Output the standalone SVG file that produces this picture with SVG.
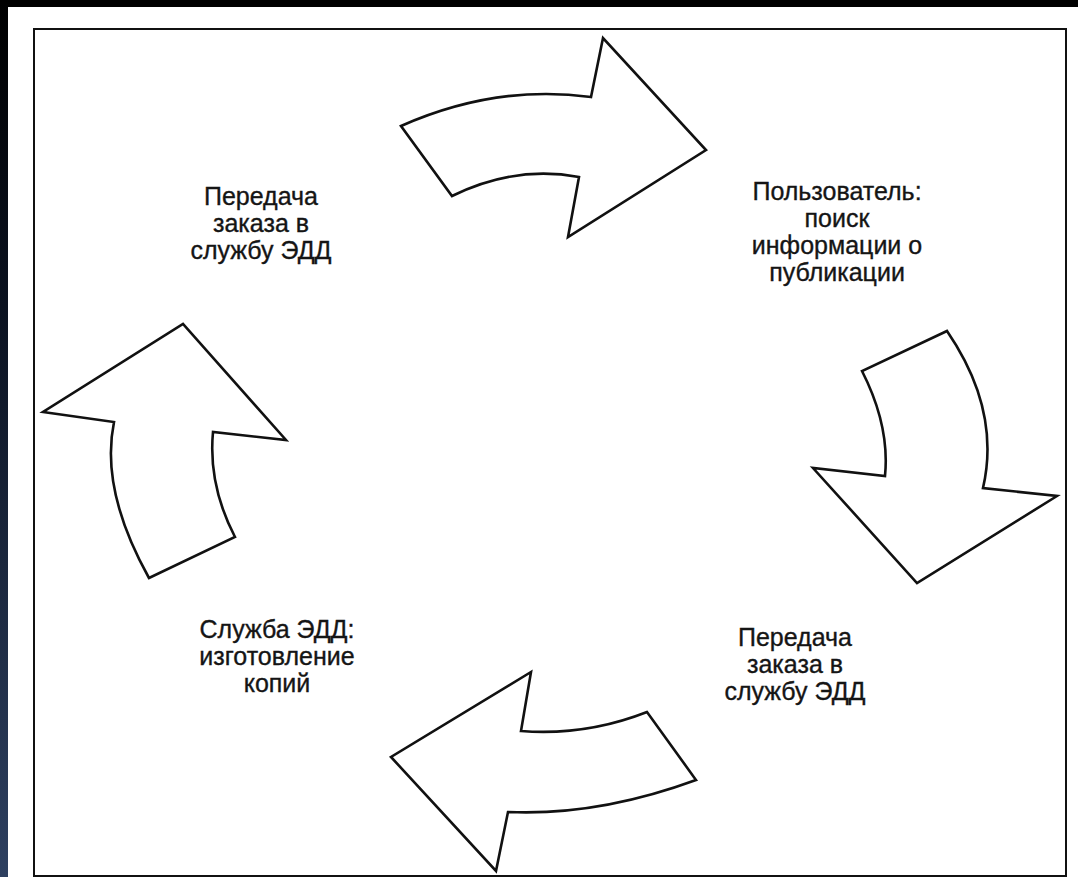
<svg xmlns="http://www.w3.org/2000/svg" width="1078" height="877" viewBox="0 0 1078 877">
  <defs>
    <linearGradient id="sideGrad" x1="0" y1="0" x2="0" y2="1">
      <stop offset="0" stop-color="#000000"/>
      <stop offset="0.35" stop-color="#0b1220"/>
      <stop offset="1" stop-color="#2e4060"/>
    </linearGradient>
  </defs>
  <style>
    .frame { fill: #ffffff; stroke: #111111; stroke-width: 2; }
    .arrow { fill: #ffffff; stroke: #111111; stroke-width: 2.6; stroke-linejoin: miter; }
    .label { font-family: "Liberation Sans", Arial, sans-serif; font-size: 25px; fill: #151515; stroke: #151515; stroke-width: 0.35; text-anchor: middle; }
  </style>
  <rect x="0" y="0" width="1078" height="877" fill="#ffffff"/>
  <rect x="0" y="0" width="1078" height="7" fill="#000000"/>
  <rect x="0" y="0" width="8" height="877" fill="url(#sideGrad)"/>
  <rect class="frame" x="34" y="29" width="1032" height="847"/>

  <g id="connectors">
    <path id="arrow-top" class="arrow" d="M401,126 Q496,84 591,97 L603,38 L706,150 L568,237 L579,177 Q515,165 452,196 Z"/>
    <path id="arrow-right" class="arrow" d="M947,331 Q1001,410 983,488 L1057,496 L917,583 L813,468 L885,476 Q890,426 862,371 Z"/>
    <path id="arrow-bottom" class="arrow" d="M647,712 Q586,736 521,731 L531,672 L391,757 L496,871 L508,812 Q598,816 696,780 Z"/>
    <path id="arrow-left" class="arrow" d="M149,578 Q100,490 114,422 L43,412 L183,324 L286,440 L213,432 Q208,485 235,537 Z"/>
  </g>

  <g id="node-transfer-top">
    <text class="label" x="261" y="205">Передача</text>
    <text class="label" x="261" y="232">заказа в</text>
    <text class="label" x="261" y="259">службу ЭДД</text>
  </g>
  <g id="node-user-search">
    <text class="label" x="837" y="200">Пользователь:</text>
    <text class="label" x="837" y="227">поиск</text>
    <text class="label" x="837" y="254">информации о</text>
    <text class="label" x="837" y="281">публикации</text>
  </g>
  <g id="node-copies">
    <text class="label" x="277" y="638">Служба ЭДД:</text>
    <text class="label" x="277" y="665">изготовление</text>
    <text class="label" x="277" y="692">копий</text>
  </g>
  <g id="node-transfer-bottom">
    <text class="label" x="795" y="646">Передача</text>
    <text class="label" x="795" y="673">заказа в</text>
    <text class="label" x="795" y="700">службу ЭДД</text>
  </g>
</svg>
